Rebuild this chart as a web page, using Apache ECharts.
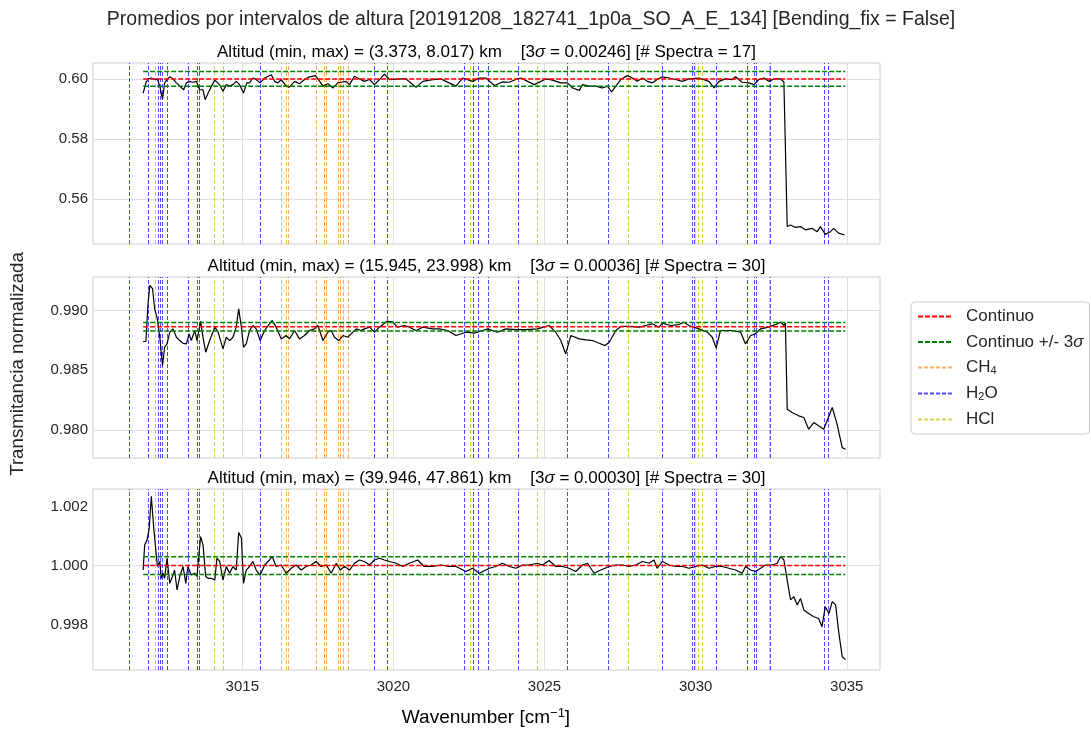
<!DOCTYPE html>
<html>
<head>
<meta charset="utf-8">
<script src="https://cdn.jsdelivr.net/npm/echarts@6/dist/echarts.min.js"></script>
<style>html,body{margin:0;background:#fff}#chart{width:1091px;height:729px}</style>
</head>
<body>
<div id="chart"></div>
<script>
// ---- datos ----
const xTicks = [3015, 3020, 3025, 3030, 3035];
const yTicks = [[0.56, 0.58, 0.60], [0.980, 0.985, 0.990], [0.998, 1.000, 1.002]];
const yDecimals = [2, 3, 3];
const yRange = [[0.5451, 0.6053], [0.97765, 0.9928], [0.99647, 1.00259]];
const xRange = [3010.06, 3036.1];
const altitudes = [[3.373, 8.017], [15.945, 23.998], [39.946, 47.861]];
const sigma3 = [0.00246, 0.00036, 0.00030];
const nSpectra = [17, 30, 30];
const continuo = [0.6000, 0.98864, 1.0000];
const specRange = [3011.72, 3034.95];

const h2oLines = [3011.25, 3011.89, 3012.21, 3012.29, 3012.36, 3012.52, 3013.20, 3013.50, 3013.57, 3015.59,
  3019.35, 3019.81, 3022.34, 3022.64, 3022.80, 3023.14, 3024.13, 3025.74, 3027.11, 3028.89, 3029.90, 3029.94,
  3030.69, 3031.72, 3031.95, 3031.99, 3032.48, 3034.25, 3034.38];
const ch4Lines = [3016.47, 3016.53, 3017.44, 3017.70, 3017.79, 3018.19, 3018.24, 3018.35, 3018.51];
const hclLines = [3012.11, 3014.08, 3014.38, 3016.30, 3022.54, 3024.76, 3027.77, 3030.07, 3030.22, 3032.44];

const spectrum1 = [[3011.72,0.5953],[3011.81,0.5987],[3011.88,0.6000],[3011.99,0.6003],[3012.10,0.5998],[3012.19,0.6000],[3012.27,0.5976],[3012.36,0.5933],[3012.43,0.5987],[3012.51,0.5998],[3012.60,0.6007],[3012.71,0.6000],[3012.82,0.5987],[3012.93,0.5976],[3013.06,0.5964],[3013.15,0.5987],[3013.26,0.5992],[3013.37,0.5989],[3013.48,0.5992],[3013.59,0.5964],[3013.70,0.5964],[3013.77,0.5931],[3013.87,0.5953],[3013.98,0.5976],[3014.09,0.5996],[3014.25,0.5981],[3014.36,0.5959],[3014.47,0.5981],[3014.58,0.5976],[3014.69,0.5981],[3014.80,0.5992],[3014.91,0.5981],[3015.04,0.5953],[3015.15,0.5987],[3015.24,0.5987],[3015.35,0.6003],[3015.46,0.5998],[3015.59,0.5987],[3015.74,0.6003],[3015.96,0.6014],[3016.07,0.5992],[3016.18,0.5987],[3016.29,0.5998],[3016.45,0.5976],[3016.56,0.5973],[3016.73,0.5992],[3016.89,0.5984],[3017.06,0.5998],[3017.22,0.6007],[3017.42,0.6011],[3017.56,0.5992],[3017.67,0.5976],[3017.83,0.5984],[3018.00,0.5970],[3018.16,0.5987],[3018.27,0.5989],[3018.44,0.5992],[3018.55,0.5981],[3018.71,0.6009],[3018.88,0.6000],[3019.04,0.5992],[3019.21,0.5998],[3019.37,0.5981],[3019.54,0.5998],[3019.70,0.6016],[3019.87,0.5998],[3020.20,0.6000],[3020.42,0.6000],[3020.75,0.5972],[3020.97,0.5992],[3021.30,0.5998],[3021.57,0.6000],[3021.74,0.5992],[3022.07,0.5976],[3022.29,0.6003],[3022.62,0.5992],[3022.84,0.6003],[3023.06,0.6003],[3023.34,0.5978],[3023.61,0.5990],[3023.83,0.5989],[3024.05,0.5998],[3024.22,0.6003],[3024.44,0.5992],[3024.66,0.5981],[3025.04,0.6000],[3025.26,0.5996],[3025.54,0.5987],[3025.76,0.5987],[3025.93,0.5970],[3026.15,0.5962],[3026.26,0.5981],[3026.48,0.5976],[3026.70,0.5976],[3026.91,0.5970],[3027.08,0.5976],[3027.22,0.5957],[3027.36,0.5976],[3027.52,0.5998],[3027.74,0.6011],[3027.91,0.6003],[3028.07,0.5992],[3028.24,0.6003],[3028.40,0.5992],[3028.57,0.5987],[3028.73,0.5998],[3028.90,0.6007],[3029.12,0.6003],[3029.34,0.5998],[3029.56,0.5992],[3029.78,0.6000],[3030.11,0.6003],[3030.44,0.5992],[3030.61,0.5970],[3030.77,0.5992],[3030.99,0.6000],[3031.21,0.5998],[3031.32,0.6007],[3031.54,0.5989],[3031.76,0.5987],[3031.93,0.5981],[3032.09,0.5998],[3032.26,0.6003],[3032.42,0.5992],[3032.59,0.6000],[3032.81,0.6000],[3032.92,0.5990],[3033.03,0.5509],[3033.14,0.5514],[3033.30,0.5506],[3033.47,0.5509],[3033.63,0.5498],[3033.85,0.5503],[3034.02,0.5492],[3034.13,0.5509],[3034.29,0.5483],[3034.46,0.5492],[3034.57,0.5503],[3034.73,0.5487],[3034.93,0.5481]];

const spectrum2 = [[3011.72,0.98739],[3011.81,0.98742],[3011.88,0.99056],[3011.94,0.99210],[3012.03,0.99182],[3012.10,0.99014],[3012.19,0.98930],[3012.27,0.98776],[3012.36,0.98538],[3012.43,0.98692],[3012.51,0.98720],[3012.60,0.98818],[3012.71,0.98846],[3012.82,0.98776],[3012.93,0.98748],[3013.04,0.98725],[3013.15,0.98720],[3013.24,0.98804],[3013.31,0.98748],[3013.43,0.98832],[3013.50,0.98748],[3013.62,0.98910],[3013.70,0.98776],[3013.79,0.98650],[3013.92,0.98748],[3014.09,0.98860],[3014.20,0.98818],[3014.36,0.98678],[3014.47,0.98776],[3014.58,0.98748],[3014.69,0.98776],[3014.80,0.98860],[3014.88,0.99014],[3014.97,0.98860],[3015.04,0.98692],[3015.13,0.98720],[3015.24,0.98832],[3015.35,0.98874],[3015.46,0.98846],[3015.59,0.98748],[3015.74,0.98832],[3015.90,0.98888],[3015.99,0.98916],[3016.12,0.98860],[3016.29,0.98762],[3016.45,0.98790],[3016.56,0.98762],[3016.73,0.98832],[3016.89,0.98762],[3017.06,0.98790],[3017.22,0.98832],[3017.39,0.98846],[3017.50,0.98874],[3017.67,0.98748],[3017.83,0.98818],[3017.94,0.98832],[3018.05,0.98776],[3018.19,0.98748],[3018.33,0.98790],[3018.49,0.98776],[3018.60,0.98804],[3018.77,0.98846],[3018.93,0.98832],[3019.04,0.98846],[3019.21,0.98860],[3019.37,0.98818],[3019.54,0.98860],[3019.79,0.98910],[3019.98,0.98902],[3020.14,0.98860],[3020.36,0.98874],[3020.53,0.98860],[3020.75,0.98832],[3020.97,0.98860],[3021.30,0.98846],[3021.52,0.98846],[3021.79,0.98832],[3022.07,0.98790],[3022.40,0.98818],[3022.68,0.98810],[3022.95,0.98832],[3023.12,0.98846],[3023.44,0.98818],[3023.72,0.98846],[3024.05,0.98840],[3024.38,0.98840],[3024.77,0.98846],[3025.15,0.98874],[3025.37,0.98818],[3025.54,0.98748],[3025.70,0.98636],[3025.87,0.98790],[3026.15,0.98762],[3026.37,0.98754],[3026.59,0.98748],[3026.81,0.98725],[3027.00,0.98706],[3027.14,0.98734],[3027.36,0.98832],[3027.52,0.98866],[3027.80,0.98866],[3028.13,0.98860],[3028.35,0.98874],[3028.57,0.98888],[3028.79,0.98860],[3028.90,0.98894],[3029.17,0.98874],[3029.45,0.98882],[3029.61,0.98902],[3029.78,0.98874],[3030.11,0.98846],[3030.39,0.98818],[3030.55,0.98776],[3030.68,0.98686],[3030.82,0.98832],[3030.99,0.98832],[3031.21,0.98832],[3031.49,0.98818],[3031.65,0.98720],[3031.82,0.98790],[3031.98,0.98804],[3032.15,0.98846],[3032.42,0.98860],[3032.70,0.98888],[3032.81,0.98902],[3032.92,0.98874],[3032.97,0.98895],[3033.03,0.98174],[3033.19,0.98146],[3033.41,0.98118],[3033.58,0.98104],[3033.74,0.98006],[3033.91,0.98062],[3034.07,0.98034],[3034.24,0.98006],[3034.35,0.98076],[3034.52,0.98188],[3034.68,0.98048],[3034.85,0.97852],[3034.96,0.97838]];

const spectrum3 = [[3011.72,0.99985],[3011.77,1.00070],[3011.85,1.00087],[3011.92,1.00127],[3011.99,1.00234],[3012.07,1.00127],[3012.13,1.00127],[3012.19,0.99997],[3012.27,1.00014],[3012.32,0.99957],[3012.38,0.99974],[3012.43,0.99957],[3012.51,1.00025],[3012.60,0.99940],[3012.69,0.99963],[3012.76,0.99985],[3012.84,0.99918],[3012.93,0.99963],[3013.04,0.99997],[3013.13,0.99940],[3013.20,0.99997],[3013.31,0.99968],[3013.43,0.99974],[3013.50,0.99963],[3013.62,1.00098],[3013.70,1.00070],[3013.79,0.99963],[3013.87,0.99957],[3013.98,0.99957],[3014.09,0.99951],[3014.16,1.00025],[3014.25,1.00014],[3014.36,0.99951],[3014.47,0.99997],[3014.58,0.99974],[3014.69,0.99997],[3014.80,0.99985],[3014.88,1.00112],[3014.97,1.00093],[3015.04,0.99940],[3015.13,0.99985],[3015.24,0.99997],[3015.35,1.00014],[3015.46,0.99985],[3015.59,0.99968],[3015.74,1.00002],[3015.90,1.00019],[3015.99,1.00031],[3016.12,0.99997],[3016.29,1.00002],[3016.45,0.99974],[3016.62,0.99991],[3016.78,1.00002],[3016.95,0.99985],[3017.11,0.99997],[3017.28,1.00002],[3017.44,1.00014],[3017.61,0.99997],[3017.78,1.00002],[3017.94,0.99974],[3018.11,1.00008],[3018.24,0.99985],[3018.38,0.99997],[3018.55,0.99985],[3018.71,1.00008],[3018.88,1.00019],[3019.04,1.00014],[3019.21,1.00002],[3019.37,1.00019],[3019.54,1.00025],[3019.70,1.00019],[3019.87,1.00014],[3020.09,1.00008],[3020.31,0.99997],[3020.53,1.00008],[3020.80,1.00019],[3021.02,0.99997],[3021.30,0.99997],[3021.57,1.00002],[3021.85,0.99997],[3022.07,0.99997],[3022.40,0.99980],[3022.62,0.99991],[3022.84,0.99974],[3023.06,0.99985],[3023.17,0.99991],[3023.39,0.99997],[3023.61,1.00008],[3023.83,0.99997],[3024.05,0.99991],[3024.27,1.00002],[3024.49,1.00002],[3024.77,1.00008],[3024.93,1.00002],[3025.15,1.00017],[3025.37,0.99997],[3025.59,0.99997],[3025.81,0.99991],[3026.03,0.99980],[3026.26,1.00002],[3026.42,1.00008],[3026.64,0.99974],[3026.86,0.99985],[3027.14,0.99997],[3027.36,1.00002],[3027.58,1.00002],[3027.80,0.99997],[3028.02,1.00002],[3028.24,1.00014],[3028.46,1.00008],[3028.62,1.00019],[3028.73,0.99991],[3028.90,1.00014],[3029.12,1.00002],[3029.34,0.99997],[3029.56,0.99997],[3029.78,0.99991],[3030.00,0.99997],[3030.22,1.00002],[3030.44,0.99991],[3030.66,0.99997],[3030.88,0.99997],[3031.10,0.99991],[3031.32,0.99985],[3031.54,0.99974],[3031.65,0.99997],[3031.82,0.99985],[3031.98,0.99980],[3032.15,0.99991],[3032.31,1.00002],[3032.53,1.00002],[3032.70,1.00008],[3032.81,1.00031],[3032.92,1.00019],[3033.03,0.99951],[3033.14,0.99884],[3033.25,0.99895],[3033.36,0.99867],[3033.47,0.99889],[3033.58,0.99850],[3033.74,0.99838],[3033.91,0.99827],[3034.07,0.99821],[3034.18,0.99793],[3034.29,0.99861],[3034.41,0.99838],[3034.52,0.99878],[3034.63,0.99867],[3034.74,0.99771],[3034.85,0.99692],[3034.96,0.99682]];

const spectra = [spectrum1, spectrum2, spectrum3];

// ---- estilo ----
const FONT = '"Liberation Sans", Arial, sans-serif';
const TXT = '#262626';
const gridTops = [63, 277, 489];
const colors = { red: '#ff0000', green: '#008000', ch4: '#ff8c1a', h2o: '#0000ff', hcl: '#bfbf00' };

const chart = echarts.init(document.getElementById('chart'));

const grids = [], xAxes = [], yAxes = [], series = [];
function vlineSeries(name, list, color, i) {
  return {
    name, type: 'line', xAxisIndex: i, yAxisIndex: i, data: [], z: 1, symbol: 'none',
    lineStyle: { color, type: [4, 2], width: 1, opacity: 0.7 }, itemStyle: { color },
    markLine: {
      silent: true, symbol: 'none', label: { show: false }, animation: false, z: 1,
      lineStyle: { color, type: [4, 2], width: 1, opacity: 0.7 },
      data: list.map(v => ({ xAxis: v }))
    }
  };
}

for (let i = 0; i < 3; i++) {
  grids.push({ left: 93, top: gridTops[i], width: 787, height: 181, show: true, borderColor: '#cccccc', borderWidth: 1, backgroundColor: '#fff' });
  xAxes.push({
    type: 'value', gridIndex: i, min: xRange[0], max: xRange[1],
    splitLine: { show: false }, axisLine: { show: false }, axisTick: { show: false },
    axisLabel: i === 2 ? { customValues: xTicks, color: TXT, fontSize: 15, fontFamily: FONT, margin: 9, formatter: v => String(v) } : { show: false }
  });
  yAxes.push({
    type: 'value', gridIndex: i, min: yRange[i][0], max: yRange[i][1],
    splitLine: { show: false }, axisLine: { show: false }, axisTick: { show: false },
    axisLabel: { customValues: yTicks[i], color: TXT, fontSize: 15, fontFamily: FONT, margin: 5,
      formatter: v => v.toFixed(yDecimals[i]) }
  });
  // rejilla
  series.push({
    type: 'line', xAxisIndex: i, yAxisIndex: i, data: [], z: 0,
    markLine: {
      silent: true, symbol: 'none', label: { show: false }, animation: false, z: 0,
      lineStyle: { color: '#dddddd', type: 'solid', width: 1 },
      data: xTicks.map(v => ({ xAxis: v })).concat(yTicks[i].map(v => ({ yAxis: v })))
    }
  });
  series.push(vlineSeries('CH4', ch4Lines, colors.ch4, i));
  series.push(vlineSeries('H2O', h2oLines, colors.h2o, i));
  series.push(vlineSeries('HCl', hclLines, colors.hcl, i));
  series.push({
    name: 'espectro', type: 'line', xAxisIndex: i, yAxisIndex: i, symbol: 'none', z: 3,
    lineStyle: { color: '#000', width: 1.2 }, data: spectra[i]
  });
  const c = continuo[i], s = sigma3[i];
  series.push({
    name: 'Continuo', type: 'line', xAxisIndex: i, yAxisIndex: i, symbol: 'none', z: 4,
    lineStyle: { color: colors.red, type: [5, 2], width: 1.5 }, itemStyle: { color: colors.red },
    data: [[specRange[0], c], [specRange[1], c]]
  });
  [c + s, c - s].forEach(v => series.push({
    name: 'Continuo +/- 3σ', type: 'line', xAxisIndex: i, yAxisIndex: i, symbol: 'none', z: 4,
    lineStyle: { color: colors.green, type: [5, 2], width: 1.5 }, itemStyle: { color: colors.green },
    data: [[specRange[0], v], [specRange[1], v]]
  }));
}

const subTitles = altitudes.map((a, i) =>
  `{n|Altitud (min, max) = (${a[0].toFixed(3)}, ${a[1].toFixed(3)}) km    [3}{i|σ}{n| = ${sigma3[i].toFixed(5)}] [# Spectra = ${nSpectra[i]}]}`);

const graphic = [
  { type: 'text', x: 531, y: 20, style: { text: 'Promedios por intervalos de altura [20191208_182741_1p0a_SO_A_E_134] [Bending_fix = False]',
    textAlign: 'center', textVerticalAlign: 'middle', font: '19.5px ' + FONT, fill: TXT } },
  { type: 'text', x: 486, y: 718, style: { text: '{n|Wavenumber [cm}{p|−1}{n|]}', textAlign: 'center', textVerticalAlign: 'middle',
    rich: { n: { fontSize: 19, fontFamily: FONT, color: TXT, lineHeight: 22 }, p: { fontSize: 13, fontFamily: FONT, color: TXT, verticalAlign: 'top', lineHeight: 14 } } } },
  { type: 'text', x: 18, y: 364, rotation: Math.PI / 2, style: { text: 'Transmitancia normalizada', textAlign: 'center', textVerticalAlign: 'middle',
    font: '18.7px ' + FONT, fill: TXT } }
];
subTitles.forEach((t, i) => graphic.push({
  type: 'text', x: 486.5, y: gridTops[i] - 11, style: { text: t, textAlign: 'center', textVerticalAlign: 'middle',
    rich: { n: { fontSize: 17, fontFamily: FONT, color: TXT }, i: { fontSize: 17, fontFamily: FONT, fontStyle: 'italic', color: TXT } } }
}));

chart.setOption({
  animation: false,
  backgroundColor: '#fff',
  grid: grids, xAxis: xAxes, yAxis: yAxes, series, graphic,
  legend: {
    orient: 'vertical', left: 911, top: 302,
    data: ['Continuo', 'Continuo +/- 3σ', 'CH4', 'H2O', 'HCl'],
    itemWidth: 34, itemHeight: 14, itemGap: 8.5,
    itemStyle: { opacity: 0 },
    padding: [6, 6, 6, 6], borderColor: '#cccccc', borderWidth: 1, borderRadius: 4, backgroundColor: '#fff',
    selectedMode: false,
    formatter: name => {
      if (name === 'CH4') return '{n|CH}{s|4}';
      if (name === 'H2O') return '{n|H}{s|2}{n|O}';
      if (name === 'Continuo +/- 3σ') return '{n|Continuo +/- 3}{i|σ}';
      return '{n|' + name + '}';
    },
    textStyle: {
      padding: [0, 0, 0, 9],
      rich: {
        n: { fontSize: 17, fontFamily: FONT, color: TXT, lineHeight: 18 },
        i: { fontSize: 17, fontFamily: FONT, fontStyle: 'italic', color: TXT, lineHeight: 18 },
        s: { fontSize: 11, fontFamily: FONT, color: TXT, verticalAlign: 'bottom', lineHeight: 11 }
      }
    }
  }
});
</script>
</body>
</html>
